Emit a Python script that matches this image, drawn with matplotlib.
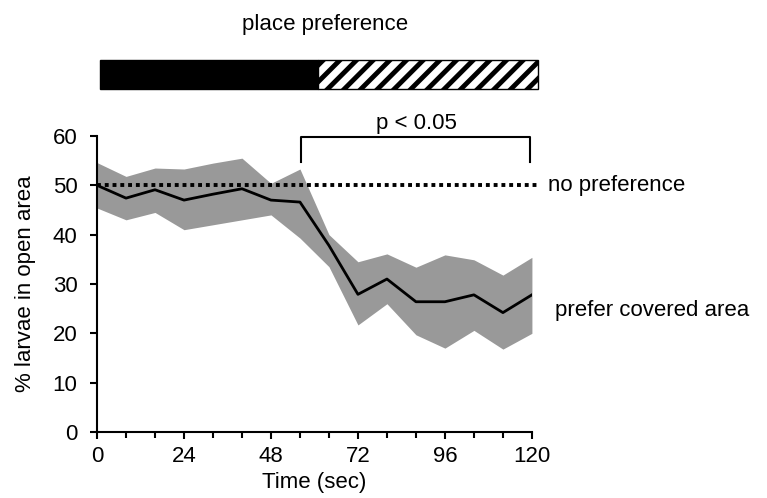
import matplotlib.pyplot as plt
from matplotlib.patches import Rectangle
from matplotlib.ticker import MultipleLocator

plt.rcParams['font.family'] = ['Liberation Sans', 'DejaVu Sans']
plt.rcParams['hatch.linewidth'] = 3.5

time_sec = [0, 8, 16, 24, 32, 40, 48, 56, 64, 72, 80, 88, 96, 104, 112, 120]
mean_pct = [50.0, 47.4, 49.1, 47.0, 48.2, 49.3, 47.0, 46.6, 37.8, 27.9, 31.0, 26.4, 26.4, 27.8, 24.2, 27.8]
upper_pct = [54.6, 51.8, 53.5, 53.3, 54.5, 55.5, 50.4, 53.3, 40.0, 34.5, 36.1, 33.4, 35.9, 34.9, 31.8, 35.4]
lower_pct = [45.4, 43.0, 44.5, 41.0, 42.0, 43.0, 44.0, 39.3, 33.5, 21.7, 26.0, 19.7, 17.0, 20.6, 16.8, 20.0]
x_ticks = [0, 24, 48, 72, 96, 120]
y_ticks = [0, 10, 20, 30, 40, 50, 60]

fs = 16

fig = plt.figure(figsize=(7.67, 4.98), dpi=100)
ax = fig.add_axes([0.1265, 0.1325, 0.567, 0.5945])

ax.fill_between(time_sec, lower_pct, upper_pct, color='#999999', linewidth=0)
ax.plot(time_sec, mean_pct, color='black', linewidth=2)
ax.plot([0, 122], [50, 50], color='black', linewidth=2.8, linestyle=(0, (1, 1)), clip_on=False)

ax.set_xlim(0, 120)
ax.set_ylim(0, 60)
ax.set_xticks(x_ticks)
ax.set_yticks(y_ticks)
ax.xaxis.set_minor_locator(MultipleLocator(8))
ax.tick_params(axis='both', which='major', labelsize=fs, direction='out', length=5, width=1.5)
ax.tick_params(axis='y', which='major', pad=9)
ax.tick_params(axis='x', which='major', pad=5)
ax.tick_params(axis='x', which='minor', direction='out', length=4, width=1.5)
for s in ['top', 'right']:
    ax.spines[s].set_visible(False)
for s in ['left', 'bottom']:
    ax.spines[s].set_linewidth(1.5)

ax.set_xlabel('Time (sec)', fontsize=fs, labelpad=4)
ax.set_ylabel('% larvae in open area', fontsize=fs, labelpad=12)

# place preference bar
ax.add_patch(Rectangle((0.8, 69.6), 60.2, 5.7, facecolor='black', edgecolor='black', clip_on=False))
ax.add_patch(Rectangle((61, 69.6), 60.7, 5.7, facecolor='white', edgecolor='black', hatch='//',
                       linewidth=1, clip_on=False))
ax.text(63, 82.6, 'place preference', fontsize=fs, ha='center', va='center')

# significance bracket
ax.plot([56.3, 56.3, 119.4, 119.4], [54.8, 59.8, 59.8, 54.8], color='black', linewidth=1.5, clip_on=False)
ax.text(88, 62.6, 'p < 0.05', fontsize=fs, ha='center', va='center')

ax.text(124.5, 50, 'no preference', fontsize=fs, ha='left', va='center')
ax.text(126.5, 24.7, 'prefer covered area', fontsize=fs, ha='left', va='center')

fig.savefig('out.png', dpi=100)
